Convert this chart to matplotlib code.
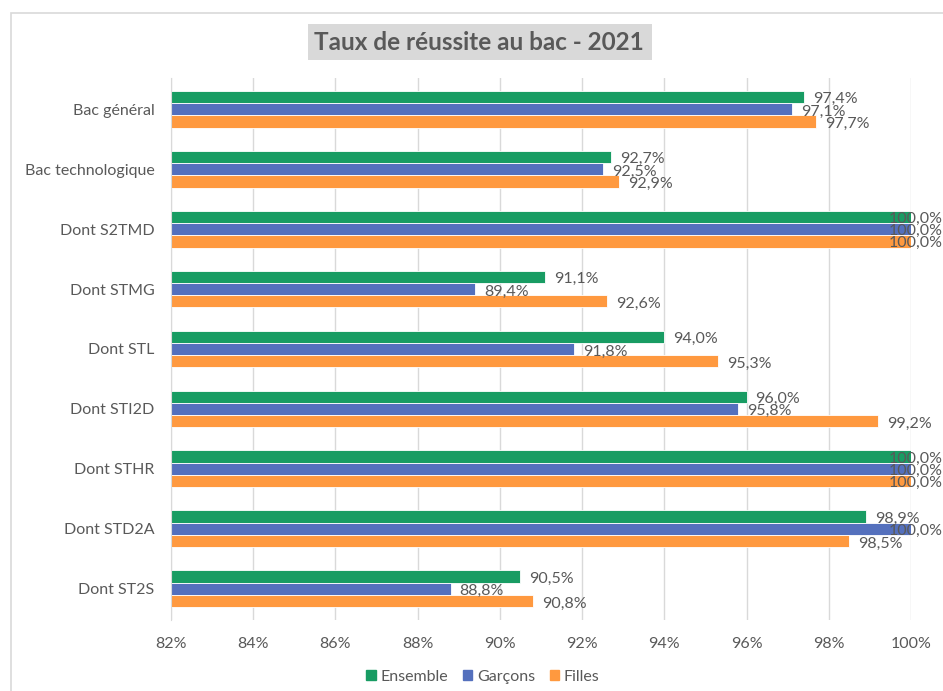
import matplotlib.pyplot as plt
import matplotlib.patches as mpatches
from matplotlib.ticker import FuncFormatter
from matplotlib.transforms import blended_transform_factory
import numpy as np

plt.rcParams['font.family'] = ['Lato', 'DejaVu Sans']

# données
categories = ['Bac général', 'Bac technologique', 'Dont S2TMD', 'Dont STMG', 'Dont STL',
              'Dont STI2D', 'Dont STHR', 'Dont STD2A', 'Dont ST2S']
ensemble = [97.4, 92.7, 100.0, 91.1, 94.0, 96.0, 100.0, 98.9, 90.5]
garcons = [97.1, 92.5, 100.0, 89.4, 91.8, 95.8, 100.0, 100.0, 88.8]
filles = [97.7, 92.9, 100.0, 92.6, 95.3, 99.2, 100.0, 98.5, 90.8]
series_names = ['Ensemble', 'Garçons', 'Filles']
colors = ['#189c63', '#5470bd', '#ff993f']
xticks = [82, 84, 86, 88, 90, 92, 94, 96, 98, 100]

gris = '#595959'
fs = 11.5

fig = plt.figure(figsize=(9.43, 6.91), dpi=100)
ax = fig.add_axes([171 / 943, 1 - 620 / 691, 740 / 943, 542 / 691])
trans_fig_x = blended_transform_factory(fig.transFigure, ax.transData)

y = np.arange(len(categories))
h = 0.205
for k, (vals, col) in enumerate(zip([ensemble, garcons, filles], colors)):
    pos = y + (k - 1) * h
    ax.barh(pos, [v - 82 for v in vals], left=82, height=h, color=col,
            edgecolor='white', linewidth=0.6, label=series_names[k], zorder=3)
    for p, v in zip(pos, vals):
        txt = f'{v:.1f}%'.replace('.', ',')
        if v >= 99.9:
            # étiquette repoussée à l'intérieur du cadre, comme dans Excel
            ax.text(0.9995, p + 0.03, txt, transform=trans_fig_x,
                    ha='right', va='center', fontsize=fs, color=gris, zorder=4)
        else:
            ax.text(v + 0.22, p + 0.04, txt, ha='left', va='center', fontsize=fs,
                    color=gris, zorder=4, clip_on=False)

ax.set_xlim(82, 100)
ax.set_ylim(8.52, -0.52)
ax.set_xticks(xticks)
ax.xaxis.set_major_formatter(FuncFormatter(lambda v, p: f'{v:.0f}%'))
ax.set_yticks(y)
ax.set_yticklabels(categories)
ax.tick_params(axis='both', length=0, labelsize=fs, labelcolor=gris)
ax.tick_params(axis='x', pad=12)
ax.tick_params(axis='y', pad=12)
ax.grid(axis='x', color='#d9d9d9', linewidth=1, zorder=0)
for s in ['top', 'right', 'bottom']:
    ax.spines[s].set_visible(False)
ax.spines['left'].set_color('#d9d9d9')
ax.spines['left'].set_zorder(5)

# titre avec fond gris
fig.patches.append(mpatches.Rectangle((308 / 943, 1 - 60 / 691), 344 / 943, 36 / 691,
                                      transform=fig.transFigure, facecolor='#d9d9d9',
                                      edgecolor='none'))
fig.text(479 / 943, 1 - 43 / 691, 'Taux de réussite au bac - 2021', ha='center', va='center',
         fontsize=17.5, fontweight='bold', color=gris)

# cadre du graphique
fig.patches.append(mpatches.Rectangle((11 / 943, -0.1), 1.1, 1 - 13 / 691 + 0.1,
                                      transform=fig.transFigure, fill=False,
                                      edgecolor='#d9d9d9', linewidth=1.2))

handles = [mpatches.Patch(color=c, label=n) for c, n in zip(colors, series_names)]
fig.legend(handles=handles, loc='center', bbox_to_anchor=(483 / 943, 1 - 677 / 691), ncol=3,
           frameon=False, fontsize=fs, labelcolor=gris, handlelength=0.6, handleheight=0.6,
           handletextpad=0.3, columnspacing=0.9)

fig.savefig('out.png', dpi=100)
